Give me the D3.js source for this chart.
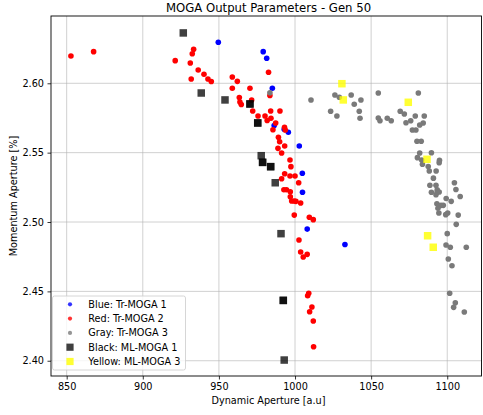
<!DOCTYPE html>
<html>
<head>
<meta charset="utf-8">
<script src="https://cdn.jsdelivr.net/npm/d3@7/dist/d3.min.js"></script>
<style>
  html, body { margin: 0; padding: 0; background: #fff; }
  svg { display: block; font-family: "DejaVu Sans", sans-serif; }
</style>
</head>
<body>
<svg id="chart" width="483" height="415"></svg>
<script>
// ---- Data ----
const title = "MOGA Output Parameters - Gen 50";
const xLabel = "Dynamic Aperture [a.u]";
const yLabel = "Momentum Aperture [%]";
const xTicks = [850, 900, 950, 1000, 1050, 1100];
const yTicks = [2.40, 2.45, 2.50, 2.55, 2.60];

const blueX = [949.6, 979.1, 981.4, 985.1, 986.3, 992.9, 995.6, 1002.8, 1004.8, 1004.9, 1008.0, 1032.8];
const blueY = [2.6296, 2.6228, 2.6180, 2.5964, 2.5696, 2.5668, 2.5647, 2.5548, 2.5351, 2.5215, 2.4949, 2.4838];

const redX = [852.8, 867.7, 921.3, 933.4, 932.5, 931.2, 936.4, 931.8, 940.2, 942.8, 945.0, 958.8, 962.1, 958.8, 970.4,
  982.6, 983.5, 963.4, 963.8, 964.7, 971.5, 972.2, 975.7, 980.3, 981.7, 984.0, 984.2, 990.1, 987.3, 985.5,
  993.1, 993.6, 989.1, 989.9, 993.2, 988.8, 991.2, 996.7, 997.3, 993.2, 996.7, 1000.0, 991.2, 1002.4, 992.7,
  994.4, 996.9, 996.9, 997.8, 999.5, 1000.6, 1003.7, 999.5, 1009.4, 1012.0, 1002.6, 1003.7, 1005.4, 1008.0,
  1009.0, 1008.3, 1011.1, 1009.6, 1012.0, 1012.2];
const redY = [2.6197, 2.6228, 2.6163, 2.6245, 2.6213, 2.6146, 2.6096, 2.6031, 2.6065, 2.6031, 2.6013, 2.6045, 2.6014, 2.5964, 2.5964,
  2.6079, 2.5912, 2.5898, 2.5865, 2.5847, 2.5880, 2.5800, 2.5764, 2.5764, 2.5732, 2.5800, 2.5748, 2.5800, 2.5714, 2.5665,
  2.5683, 2.5663, 2.5611, 2.5579, 2.5548, 2.5531, 2.5497, 2.5447, 2.5399, 2.5348, 2.5332, 2.5332, 2.5312, 2.5283, 2.5233,
  2.5233, 2.5218, 2.5182, 2.5151, 2.5151, 2.5149, 2.5137, 2.5050, 2.5034, 2.5017, 2.4870, 2.4784, 2.4748, 2.4767,
  2.4486, 2.4469, 2.4387, 2.4353, 2.4286, 2.4101];

const grayX = [983.5, 1010.5, 1026.2, 1029.1, 1036.9, 1038.9, 1043.3, 1023.4, 1027.5, 1042.2, 1042.7, 1054.7, 1081.0,
  1054.7, 1055.8, 1060.6, 1063.2, 1069.1, 1071.8, 1076.0, 1072.9, 1079.0, 1084.9, 1084.2, 1081.9, 1077.1, 1079.4,
  1080.1, 1082.9, 1081.9, 1089.6, 1080.4, 1083.2, 1094.9, 1094.7, 1083.7, 1087.5, 1088.2, 1092.7, 1090.9, 1088.6,
  1092.6, 1104.7, 1105.7, 1093.4, 1089.6, 1093.4, 1094.7, 1092.6, 1108.5, 1099.3, 1102.6, 1093.2, 1095.9, 1097.4,
  1093.9, 1094.5, 1100.3, 1099.0, 1107.2, 1105.9, 1100.0, 1099.2, 1102.0, 1112.5, 1100.7, 1103.1, 1101.6, 1105.3,
  1104.2, 1111.2];
const grayY = [2.5932, 2.5880, 2.5916, 2.5899, 2.5916, 2.5849, 2.5880, 2.5798, 2.5764, 2.5798, 2.5748, 2.5930, 2.5930,
  2.5750, 2.5730, 2.5748, 2.5730, 2.5798, 2.5779, 2.5730, 2.5716, 2.5764, 2.5764, 2.5714, 2.5699, 2.5663, 2.5663,
  2.5582, 2.5582, 2.5497, 2.5499, 2.5464, 2.5447, 2.5445, 2.5428, 2.5416, 2.5400, 2.5368, 2.5368, 2.5316, 2.5265,
  2.5265, 2.5283, 2.5234, 2.5233, 2.5214, 2.5216, 2.5216, 2.5197, 2.5184, 2.5169, 2.5149, 2.5132, 2.5120, 2.5120,
  2.5099, 2.5065, 2.5065, 2.5053, 2.5050, 2.4983, 2.4916, 2.4834, 2.4818, 2.4818, 2.4733, 2.4685, 2.4486, 2.4418,
  2.4385, 2.4351];

// ML-MOGA 1 (some solutions appear twice, overlapping)
const blackX = [926.6, 938.4, 954.0, 970.4, 970.4, 975.5, 975.5, 977.8, 978.7, 978.7, 984.0, 984.0, 987.0, 990.8, 992.3, 992.3, 992.9];
const blackY = [2.6363, 2.5930, 2.5880, 2.5851, 2.5851, 2.5714, 2.5714, 2.5478, 2.5430, 2.5430, 2.5399, 2.5399, 2.5283, 2.4916, 2.4435, 2.4435, 2.4005];

const yellowX = [1030.8, 1031.7, 1074.4, 1086.7, 1087.1, 1090.8];
const yellowY = [2.5997, 2.5880, 2.5863, 2.5452, 2.4901, 2.4818];

const legendLabels = ["Blue: Tr-MOGA 1", "Red: Tr-MOGA 2", "Gray: Tr-MOGA 3", "Black: ML-MOGA 1", "Yellow: ML-MOGA 3"];

// ---- Layout ----
const svg = d3.select("#chart");
const L = 51, R = 481.5, T = 16, B = 376;
const x = d3.scaleLinear().domain([839.7, 1122.5]).range([L, R]);
const y = d3.scaleLinear().domain([2.3890, 2.6485]).range([B, T]);

// Grid
const grid = svg.append("g");
grid.selectAll("line.vx").data(xTicks).join("line")
  .attr("x1", d => x(d)).attr("x2", d => x(d)).attr("y1", T).attr("y2", B)
  .attr("stroke", "#b0b0b0").attr("stroke-opacity", 0.6).attr("stroke-width", 1);
grid.selectAll("line.hy").data(yTicks).join("line")
  .attr("y1", d => y(d)).attr("y2", d => y(d)).attr("x1", L).attr("x2", R)
  .attr("stroke", "#b0b0b0").attr("stroke-opacity", 0.6).attr("stroke-width", 1);

// Points
function pts(xs, ys) { return xs.map((v, i) => ({ x: v, y: ys[i] })); }
const gPts = svg.append("g");
const r = 2.8;
gPts.selectAll("circle.b").data(pts(blueX, blueY)).join("circle")
  .attr("cx", d => x(d.x)).attr("cy", d => y(d.y)).attr("r", r).attr("fill", "#0000ff");
gPts.selectAll("circle.r").data(pts(redX, redY)).join("circle")
  .attr("cx", d => x(d.x)).attr("cy", d => y(d.y)).attr("r", r).attr("fill", "#ff0000");
gPts.selectAll("circle.g").data(pts(grayX, grayY)).join("circle")
  .attr("cx", d => x(d.x)).attr("cy", d => y(d.y)).attr("r", r).attr("fill", "#7a7a7a");
const s = 7.5;
gPts.selectAll("rect.k").data(pts(blackX, blackY)).join("rect")
  .attr("x", d => x(d.x) - s / 2).attr("y", d => y(d.y) - s / 2).attr("width", s).attr("height", s)
  .attr("fill", "#000").attr("fill-opacity", 0.75);
gPts.selectAll("rect.yl").data(pts(yellowX, yellowY)).join("rect")
  .attr("x", d => x(d.x) - s / 2).attr("y", d => y(d.y) - s / 2).attr("width", s).attr("height", s)
  .attr("fill", "#ffff00").attr("fill-opacity", 0.8);

// Frame
svg.append("rect").attr("x", L).attr("y", T).attr("width", R - L).attr("height", B - T)
  .attr("fill", "none").attr("stroke", "#000").attr("stroke-width", 0.9);

// Axes
const fs = "9.7px";
const xAxis = svg.append("g").attr("transform", `translate(0,${B})`)
  .call(d3.axisBottom(x).tickValues(xTicks).tickFormat(d3.format("d")).tickSize(3.5).tickPadding(3.5).tickSizeOuter(0));
const yAxis = svg.append("g").attr("transform", `translate(${L},0)`)
  .call(d3.axisLeft(y).tickValues(yTicks).tickFormat(d3.format(".2f")).tickSize(3.5).tickPadding(3.5).tickSizeOuter(0));
[xAxis, yAxis].forEach(a => {
  a.select(".domain").remove();
  a.selectAll("text").attr("font-size", fs).attr("font-family", "DejaVu Sans").attr("fill", "#000");
  a.selectAll("line").attr("stroke", "#000").attr("stroke-width", 0.8);
});

// Labels
svg.append("text").attr("x", 268.5).attr("y", 12).attr("text-anchor", "middle")
  .attr("font-size", "11.7px").attr("fill", "#000").text(title);
svg.append("text").attr("x", 268.5).attr("y", 403.5).attr("text-anchor", "middle")
  .attr("font-size", fs).attr("fill", "#000").text(xLabel);
svg.append("text").attr("transform", `translate(16.5,${(T + B) / 2}) rotate(-90)`).attr("text-anchor", "middle")
  .attr("font-size", fs).attr("fill", "#000").text(yLabel);

// Legend
const lg = svg.append("g");
lg.append("rect").attr("x", 52.5).attr("y", 296).attr("width", 133).attr("height", 74).attr("rx", 2)
  .attr("fill", "#fff").attr("fill-opacity", 0.8).attr("stroke", "#cccccc").attr("stroke-width", 0.8);
const rowY = d3.scaleLinear().domain([0, 4]).range([304.3, 361.5]);
const legendMarks = [
  { type: "c", color: "#0000ff", op: 1 },
  { type: "c", color: "#ff0000", op: 1 },
  { type: "c", color: "#7a7a7a", op: 1 },
  { type: "s", color: "#000", op: 0.75 },
  { type: "s", color: "#ffff00", op: 0.8 }
];
legendLabels.forEach((lab, i) => {
  const cy = rowY(i), m = legendMarks[i];
  if (m.type === "c") {
    lg.append("circle").attr("cx", 70).attr("cy", cy).attr("r", 2.1).attr("fill", m.color).attr("fill-opacity", 0.8);
  } else {
    lg.append("rect").attr("x", 70 - 3.6).attr("y", cy - 3.6).attr("width", 7.2).attr("height", 7.2)
      .attr("fill", m.color).attr("fill-opacity", m.op);
  }
  lg.append("text").attr("x", 88.3).attr("y", cy + 3.5).attr("font-size", fs).attr("fill", "#000").text(lab);
});
</script>
</body>
</html>
